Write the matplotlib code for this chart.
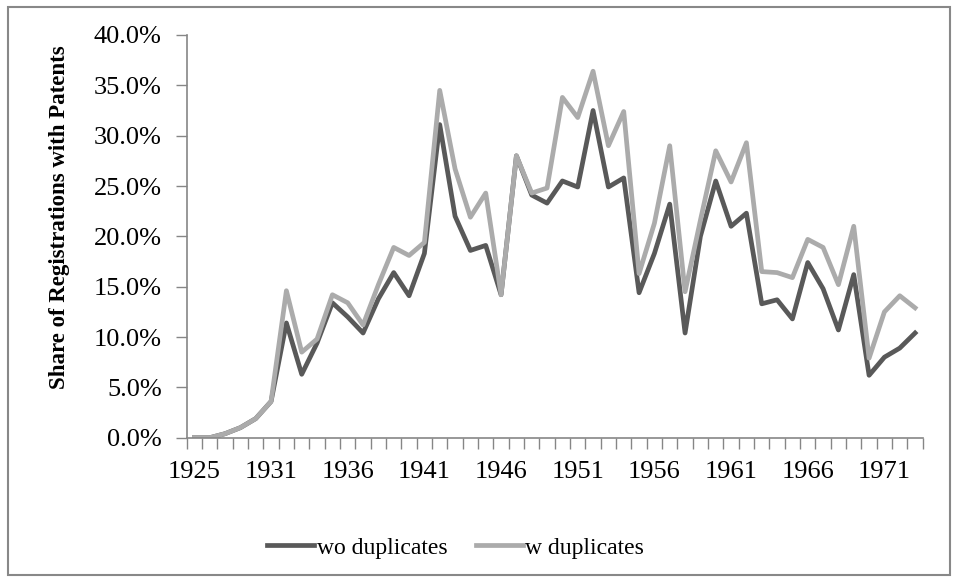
import matplotlib
matplotlib.use("Agg")
import matplotlib.pyplot as plt
from matplotlib.patches import Rectangle
from matplotlib.ticker import FuncFormatter

# share of registrations with patents (%)
wo_dup = [0.0, 0.0, 0.4, 1.0, 1.9, 3.6, 11.4, 6.3, 9.4, 13.4,
          12.0, 10.4, 13.8, 16.4, 14.1, 18.3, 31.1, 22.0, 18.6, 19.1,
          14.2, 28.0, 24.1, 23.3, 25.5, 24.9, 32.5, 24.9, 25.8, 14.4,
          18.3, 23.2, 10.4, 20.0, 25.5, 21.0, 22.3, 13.3, 13.7, 11.8,
          17.4, 14.8, 10.7, 16.2, 6.2, 8.0, 8.9, 10.4]
w_dup = [0.0, 0.0, 0.4, 1.0, 1.9, 3.6, 14.6, 8.5, 9.8, 14.2,
         13.4, 11.2, 15.2, 18.9, 18.1, 19.4, 34.5, 26.7, 21.9, 24.3,
         14.2, 28.0, 24.3, 24.8, 33.8, 31.8, 36.4, 29.0, 32.4, 16.3,
         21.3, 29.0, 14.5, 21.6, 28.5, 25.4, 29.3, 16.5, 16.4, 15.9,
         19.7, 18.9, 15.2, 21.0, 7.9, 12.5, 14.1, 12.9]

# category labels, shown every 5th category
year_labels = ["1925", "1931", "1936", "1941", "1946",
               "1951", "1956", "1961", "1966", "1971"]
label_idx = [0, 5, 10, 15, 20, 25, 30, 35, 40, 45]

dark = "#595959"
light = "#ababab"
axis_col = "#868686"

plt.rcParams["font.family"] = ["Liberation Serif", "DejaVu Serif"]

fig = plt.figure(figsize=(9.59, 5.81), dpi=100)
ax = fig.add_axes([0.1947, 0.2466, 0.7675, 0.6932])

x = list(range(len(wo_dup)))
ax.plot(x, wo_dup, color=dark, lw=3.4, label="wo duplicates", solid_joinstyle="round")
ax.plot(x, w_dup, color=light, lw=3.4, label="w duplicates", solid_joinstyle="round")

ax.set_xlim(-0.5, len(x) - 0.5)
ax.set_ylim(0, 40)
ax.set_yticks(range(0, 41, 5))
ax.yaxis.set_major_formatter(FuncFormatter(lambda v, p: f"{v:.1f}%"))

# category axis: tick marks between categories
ax.set_xticks([i - 0.5 for i in range(len(x) + 1)], minor=True)
ax.set_xticks(label_idx)
ax.set_xticklabels(year_labels)
ax.tick_params(axis="x", which="major", length=0, pad=17, labelsize=19)
ax.tick_params(axis="x", which="minor", length=8, width=1, color=axis_col, direction="out")
ax.tick_params(axis="y", length=8, width=1, color=axis_col, direction="out", pad=10, labelsize=19)

for s in ["top", "right"]:
    ax.spines[s].set_visible(False)
for s in ["left", "bottom"]:
    ax.spines[s].set_color(axis_col)
    ax.spines[s].set_linewidth(1.2)

ax.set_ylabel("Share of Registrations with Patents", fontsize=16.5, fontweight="bold")
ax.yaxis.set_label_coords(-0.1586, 0.547)

fig.legend(loc="center", bbox_to_anchor=(0.475, 0.057), ncol=2, frameon=False,
           fontsize=17, handlelength=2.0, handletextpad=0.1, columnspacing=1.2)

# outer chart border
fig.patches.append(Rectangle((8 / 959, 6 / 581), 942 / 959, 568 / 581,
                             transform=fig.transFigure, fill=False,
                             edgecolor="#888888", lw=1.5))

fig.savefig("out.png", dpi=100)
